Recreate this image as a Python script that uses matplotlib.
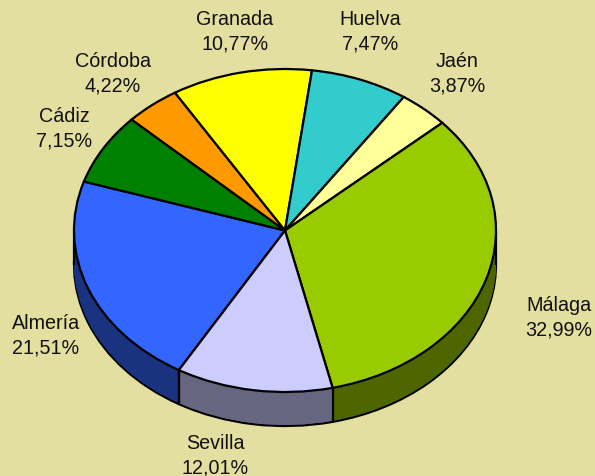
import numpy as np
import matplotlib
matplotlib.use("Agg")
import matplotlib.pyplot as plt

categories = ["Almería", "Cádiz", "Córdoba", "Granada", "Huelva", "Jaén", "Málaga", "Sevilla"]
values = [21.51, 7.15, 4.22, 10.77, 7.47, 3.87, 32.99, 12.01]
colors = ["#3366FF", "#008000", "#FF9900", "#FFFF00", "#33CCCC", "#FFFF99", "#99CC00", "#CCCCFF"]
label_px = [(46, 336), (64, 129), (113, 74), (235, 32), (370, 32), (457, 74), (559, 318), (215, 456)]

BG = "#E3DFA0"
W, H = 595, 477
CX, CY, RX, RY = 285.0, 231.5, 211.0, 161.5
DEPTH = 34 / RY
START = 239.8

def dark(c):
    return tuple(0.5 * v for v in matplotlib.colors.to_rgb(c))

plt.rcParams["font.family"] = ["Liberation Sans", "DejaVu Sans"]
fig = plt.figure(figsize=(W / 100, H / 100), dpi=100, facecolor=BG)
ax = fig.add_axes([0, 0, 1, 1])
side = [dark(c) for c in colors]

# extruded wall: bottom face with outline, then filled layers up to the top face
ax.pie(values, colors=side, startangle=START, counterclock=False, radius=1,
       center=(0, -DEPTH), wedgeprops=dict(edgecolor="black", linewidth=1.6))
for d in np.linspace(DEPTH, 0, 34)[1:]:
    ax.pie(values, colors=side, startangle=START, counterclock=False, radius=1,
           center=(0, -d), wedgeprops=dict(edgecolor="none", linewidth=0))

# vertical edges on the wall at visible slice boundaries and at the silhouette
bounds = START - np.cumsum([0] + values) * 3.6
for a in bounds:
    y = np.sin(np.radians(a))
    if y < 0:
        x = np.cos(np.radians(a))
        ax.plot([x, x], [y, y - DEPTH], color="black", lw=1.6, zorder=5, solid_capstyle="butt")
for x in (-1, 1):
    ax.plot([x, x], [0, -DEPTH], color="black", lw=1.6, zorder=5, solid_capstyle="butt")

wedges, _ = ax.pie(values, colors=colors, startangle=START, counterclock=False, radius=1,
                   center=(0, 0), wedgeprops=dict(edgecolor="black", linewidth=1.6))
for w in wedges:
    w.set_zorder(6)

ax.set_aspect("auto")
ax.set_xlim(-CX / RX, (W - CX) / RX)
ax.set_ylim((CY - H) / RY, CY / RY)
ax.axis("off")

for name, val, (px, py) in zip(categories, values, label_px):
    ax.text((px - CX) / RX, (CY - py) / RY,
            f"{name}\n{val:.2f}%".replace(".", ","),
            ha="center", va="center", fontsize=14.2, color="#111111",
            linespacing=1.38, zorder=10)

fig.savefig("out.png", dpi=100, facecolor=BG)
